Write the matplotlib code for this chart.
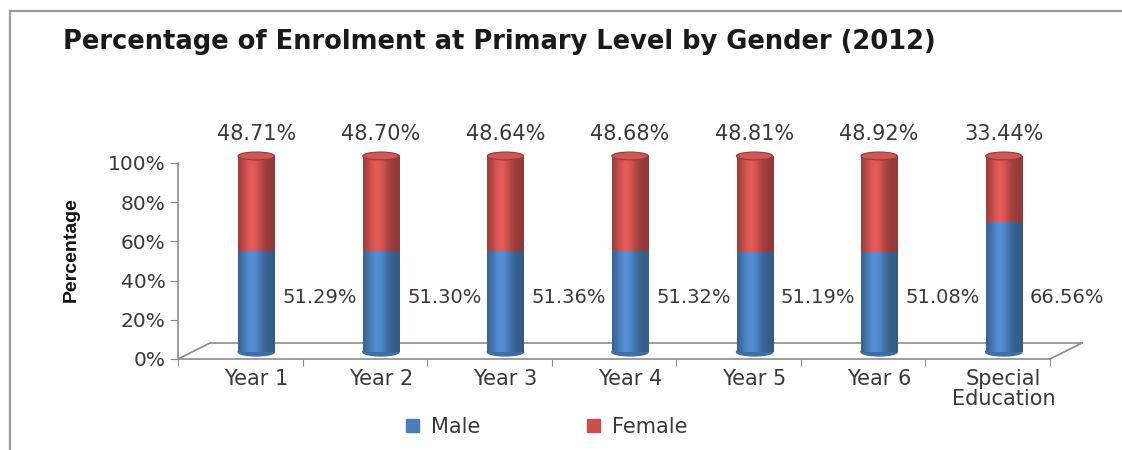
import numpy as np
import matplotlib
matplotlib.use('Agg')
import matplotlib.pyplot as plt
import matplotlib.patches as mpatches
import matplotlib.transforms as mtransforms
from matplotlib.lines import Line2D

categories = ['Year 1', 'Year 2', 'Year 3', 'Year 4', 'Year 5', 'Year 6', 'Special\nEducation']
male = [51.29, 51.30, 51.36, 51.32, 51.19, 51.08, 66.56]
female = [48.71, 48.70, 48.64, 48.68, 48.81, 48.92, 33.44]
yticks = [0, 20, 40, 60, 80, 100]

BLUE = '#4a7ebb'
RED = '#c9504d'
TXT = '#3a3a3a'

W, H = 1122, 450
fig = plt.figure(figsize=(W / 100, H / 100), dpi=100)
ax = fig.add_axes([178 / W, 1 - 359 / H, 872 / W, 196 / H])

# bars sit half way into the 3d floor
depth = (32, 16)
trans = ax.transData + mtransforms.ScaledTranslation(depth[0] / 2 / 100, 7 / 100, fig.dpi_scale_trans)

x = np.arange(len(categories))
bw = 0.29


def shade(color, n=64):
    rgb = np.array(matplotlib.colors.to_rgb(color))
    t = np.linspace(0, 1, n)
    f = 0.72 + 0.42 * np.exp(-((t - 0.38) / 0.28) ** 2)
    return np.clip(rgb[None, None, :] * f[None, :, None], 0, 1)


b1 = ax.bar(x, male, width=bw, color=BLUE, zorder=3)
b2 = ax.bar(x, female, bottom=male, width=bw, color=RED, zorder=3)
cap_h = 4.0
for i in range(len(categories)):
    for p, col in ((b1[i], BLUE), (b2[i], RED)):
        p.set_transform(trans)
        p.set_clip_on(False)
        x0, y0 = p.get_x(), p.get_y()
        ax.imshow(shade(col), extent=(x0, x0 + p.get_width(), y0, y0 + p.get_height()),
                  aspect='auto', zorder=4, transform=trans, interpolation='bilinear', clip_on=False)
    # bottom and top caps of the cylinder
    ax.add_patch(mpatches.Ellipse((x[i], 0), bw, cap_h, color='#3f6ea6', zorder=2,
                                  transform=trans, clip_on=False))
    ax.add_patch(mpatches.Ellipse((x[i], 100), bw, cap_h, facecolor='#cf5855', edgecolor='#a03936',
                                  lw=0.9, zorder=5, transform=trans, clip_on=False))
    ax.annotate('%.2f%%' % female[i], (x[i], 100), xycoords=trans, xytext=(0, 16),
                textcoords='offset points', ha='center', va='center', fontsize=15, color=TXT)
    ax.annotate('%.2f%%' % male[i], (x[i] + bw / 2, 28), xycoords=trans, xytext=(6, 0),
                textcoords='offset points', ha='left', va='center', fontsize=14, color=TXT)

ax.set_xlim(-0.5, len(categories) - 0.5)
ax.set_ylim(0, 100)

# floor of the 3d box
dx, dy = depth[0] / 872, depth[1] / 196
gray = '#8c8c8c'
for xs, ys in (([0, dx], [0, dy]), ([1, 1 + dx], [0, dy]), ([dx, 1 + dx], [dy, dy])):
    ax.add_line(Line2D(xs, ys, transform=ax.transAxes, color=gray, lw=1.2, clip_on=False))

for s in ('top', 'right'):
    ax.spines[s].set_visible(False)
for s in ('left', 'bottom'):
    ax.spines[s].set_color(gray)
    ax.spines[s].set_linewidth(1.2)

ax.set_yticks(yticks)
ax.set_yticklabels(['%d%%' % v for v in yticks])
ax.tick_params(axis='y', length=6, color=gray, labelsize=14.5, labelcolor=TXT, pad=3)
ax.set_xticks(np.arange(len(categories) + 1) - 0.5)
ax.set_xticklabels([])
ax.tick_params(axis='x', which='major', length=5, color=gray)
ax.set_xticks(x, minor=True)
ax.set_xticklabels(categories, minor=True, fontsize=15, color=TXT, linespacing=1.0, va='top')
ax.tick_params(axis='x', which='minor', length=0, pad=7)
lab_shift = mtransforms.ScaledTranslation(16 / 100, 0, fig.dpi_scale_trans)
for lab in ax.get_xticklabels(minor=True):
    lab.set_transform(lab.get_transform() + lab_shift)

ax.set_ylabel('Percentage', fontsize=14, fontweight='bold', family=['Liberation Sans', 'DejaVu Sans'],
              color='#111111', va='center')
ax.yaxis.set_label_coords(-0.122, 0.56)

fig.text(63 / W, 1 - 42 / H, 'Percentage of Enrolment at Primary Level by Gender (2012)',
         fontsize=18.5, fontweight='bold', color='#1a1a1a', ha='left', va='center')

handles = [mpatches.Patch(color=BLUE, label='Male'), mpatches.Patch(color=RED, label='Female')]
fig.legend(handles=handles, loc='center', bbox_to_anchor=(547 / W, 1 - 427 / H), ncol=2, frameon=False,
           fontsize=15, handlelength=0.6, handleheight=0.6, handletextpad=0.6, columnspacing=5.1,
           labelcolor=TXT)

# outer frame of the original figure
fig.add_artist(Line2D([10 / W, 1], [1 - 11 / H, 1 - 11 / H], color='#9a9a9a', lw=1.6))
fig.add_artist(Line2D([10 / W, 10 / W], [0, 1 - 11 / H], color='#9a9a9a', lw=1.6))

fig.savefig('out.png', dpi=100)
